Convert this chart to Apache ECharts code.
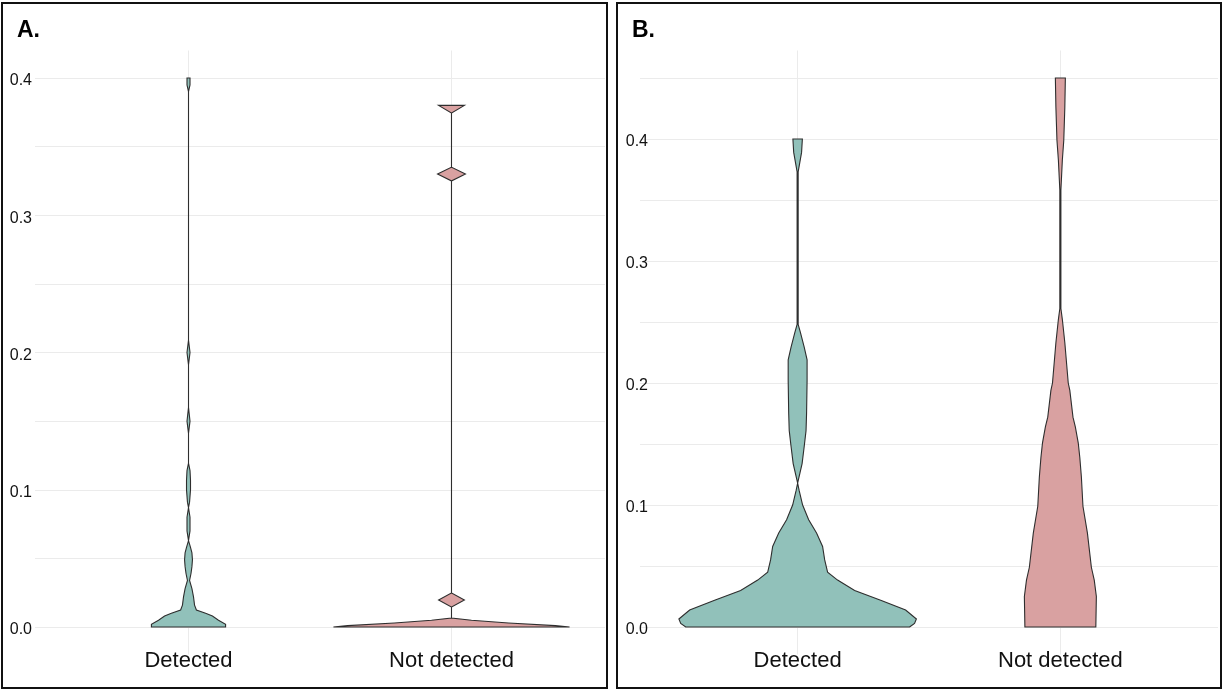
<!DOCTYPE html>
<html>
<head>
<meta charset="utf-8">
<script src="https://cdn.jsdelivr.net/npm/echarts@6/dist/echarts.min.js"></script>
<style>
    html, body { margin: 0; padding: 0; background: #fff; }
    #chart { width: 1225px; height: 691px; }
</style>
</head>
<body>
<div id="chart"></div>
<script>
var categories = ['Detected', 'Not detected'];
var yLabelsA = [0, 0.1, 0.2, 0.3, 0.4];
var yGridA = [0, 0.05, 0.1, 0.15, 0.2, 0.25, 0.3, 0.35, 0.4];
var yLabelsB = [0, 0.1, 0.2, 0.3, 0.4];
var yGridB = [0, 0.05, 0.1, 0.15, 0.2, 0.25, 0.3, 0.35, 0.4, 0.45];

// violin outlines: y value and half width (in category units)
var detA_y = [0, 0.002, 0.005, 0.008, 0.010, 0.0124, 0.016, 0.022, 0.028, 0.034, 0.039, 0.044, 0.049, 0.054, 0.058, 0.063,
    0.070, 0.080, 0.087, 0.091, 0.100, 0.107, 0.114, 0.1195, 0.141, 0.150, 0.160, 0.191, 0.200, 0.209, 0.390, 0.395, 0.400];
var detA_w = [0.141, 0.141, 0.114, 0.091, 0.065, 0.030, 0.023, 0.019, 0.013, 0.004, 0.0095, 0.013, 0.015, 0.013, 0.0076, 0,
    0.0057, 0.0057, 0, 0.004, 0.0076, 0.0076, 0.0057, 0, 0, 0.0057, 0, 0, 0.0057, 0, 0, 0.0057, 0.0057];

var notA_y = [0, 0.001, 0.003, 0.005, 0.0065, 0.0146, 0.0197, 0.0248, 0.325, 0.330, 0.335, 0.3745, 0.380];
var notA_w = [0.449, 0.395, 0.217, 0.076, 0, 0, 0.049, 0, 0, 0.053, 0, 0, 0.049];

var detB_y = [0, 0.003, 0.0066, 0.014, 0.022, 0.030, 0.0385, 0.045, 0.055, 0.066, 0.077, 0.088, 0.100, 0.112, 0.118,
    0.134, 0.148, 0.161, 0.175, 0.202, 0.219, 0.2295, 0.241, 0.248, 0.373, 0.389, 0.400];
var detB_w = [0.426, 0.445, 0.452, 0.411, 0.316, 0.217, 0.152, 0.114, 0.103, 0.095, 0.072, 0.042, 0.019, 0.0057, 0,
    0.017, 0.025, 0.032, 0.034, 0.036, 0.036, 0.025, 0.011, 0.002, 0.002, 0.015, 0.018];

var notB_y = [0, 0.025, 0.0385, 0.049, 0.077, 0.099, 0.123, 0.139, 0.151, 0.164, 0.172, 0.194, 0.200, 0.233, 0.252,
    0.261, 0.358, 0.383, 0.399, 0.426, 0.450];
var notB_w = [0.135, 0.137, 0.129, 0.118, 0.103, 0.086, 0.080, 0.074, 0.068, 0.057, 0.048, 0.036, 0.030, 0.017, 0.0076,
    0.002, 0.002, 0.0076, 0.013, 0.017, 0.019];

var tealFill = '#91c1ba';
var pinkFill = '#d9a1a1';
var font = 'Liberation Sans, Arial, sans-serif';

var chart = echarts.init(document.getElementById('chart'));

function violinItem(profiles) {
    return function (params, api) {
        var p = profiles[params.dataIndex];
        var pos = api.value(0);
        var pts = [];
        for (var i = 0; i < p.y.length; i++) {
            pts.push(api.coord([pos + p.w[i], p.y[i]]));
        }
        for (var j = p.y.length - 1; j >= 0; j--) {
            pts.push(api.coord([pos - p.w[j], p.y[j]]));
        }
        return {
            type: 'polygon',
            shape: {points: pts},
            style: {fill: p.color, stroke: '#2e2e2e', lineWidth: 1.1}
        };
    };
}

function xAxisFor(gridIndex, min, max) {
    return {
        type: 'value',
        gridIndex: gridIndex,
        min: min,
        max: max,
        axisLine: {show: false},
        axisTick: {show: false, customValues: [1, 2]},
        axisLabel: {
            customValues: [1, 2],
            margin: -5,
            fontSize: 22,
            color: '#111',
            fontFamily: font,
            formatter: function (v) { return categories[Math.round(v) - 1]; }
        },
        splitLine: {show: true, lineStyle: {color: '#ebebeb', width: 1}}
    };
}

function yAxisFor(gridIndex, min, max, labels, grid, margin) {
    return {
        type: 'value',
        gridIndex: gridIndex,
        min: min,
        max: max,
        axisLine: {show: false},
        axisTick: {show: false, customValues: grid},
        axisLabel: {
            customValues: labels,
            margin: margin,
            fontSize: 16,
            color: '#111',
            fontFamily: font,
            verticalAlign: 'top',
            lineHeight: 6,
            formatter: function (v) { return v.toFixed(1); }
        },
        splitLine: {show: true, lineStyle: {color: '#ebebeb', width: 1}}
    };
}

var option = {
    backgroundColor: '#ffffff',
    animation: false,
    title: [
        {text: 'A.', left: 12, top: 14, textStyle: {fontSize: 23, fontWeight: 'bold', color: '#000', fontFamily: font}},
        {text: 'B.', left: 627, top: 14, textStyle: {fontSize: 23, fontWeight: 'bold', color: '#000', fontFamily: font}}
    ],
    grid: [
        {left: 35, top: 50.5, width: 570, height: 604},
        {left: 640, top: 50.5, width: 578, height: 604}
    ],
    xAxis: [
        xAxisFor(0, 0.4163, 2.5837),
        xAxisFor(1, 0.4, 2.6)
    ],
    yAxis: [
        yAxisFor(0, -0.02, 0.42, yLabelsA, yGridA, 3),
        yAxisFor(1, -0.0225, 0.4725, yLabelsB, yGridB, -8)
    ],
    graphic: [
        {type: 'rect', shape: {x: 2, y: 3, width: 605, height: 685}, style: {fill: 'none', stroke: '#111', lineWidth: 2}, z: 100},
        {type: 'rect', shape: {x: 617, y: 3, width: 604, height: 685}, style: {fill: 'none', stroke: '#111', lineWidth: 2}, z: 100}
    ],
    series: [
        {
            type: 'custom',
            xAxisIndex: 0,
            yAxisIndex: 0,
            clip: false,
            silent: true,
            renderItem: violinItem([
                {y: detA_y, w: detA_w, color: tealFill},
                {y: notA_y, w: notA_w, color: pinkFill}
            ]),
            data: [[1, 0], [2, 0]]
        },
        {
            type: 'custom',
            xAxisIndex: 1,
            yAxisIndex: 1,
            clip: false,
            silent: true,
            renderItem: violinItem([
                {y: detB_y, w: detB_w, color: tealFill},
                {y: notB_y, w: notB_w, color: pinkFill}
            ]),
            data: [[1, 0], [2, 0]]
        }
    ]
};

chart.setOption(option);
</script>
</body>
</html>
